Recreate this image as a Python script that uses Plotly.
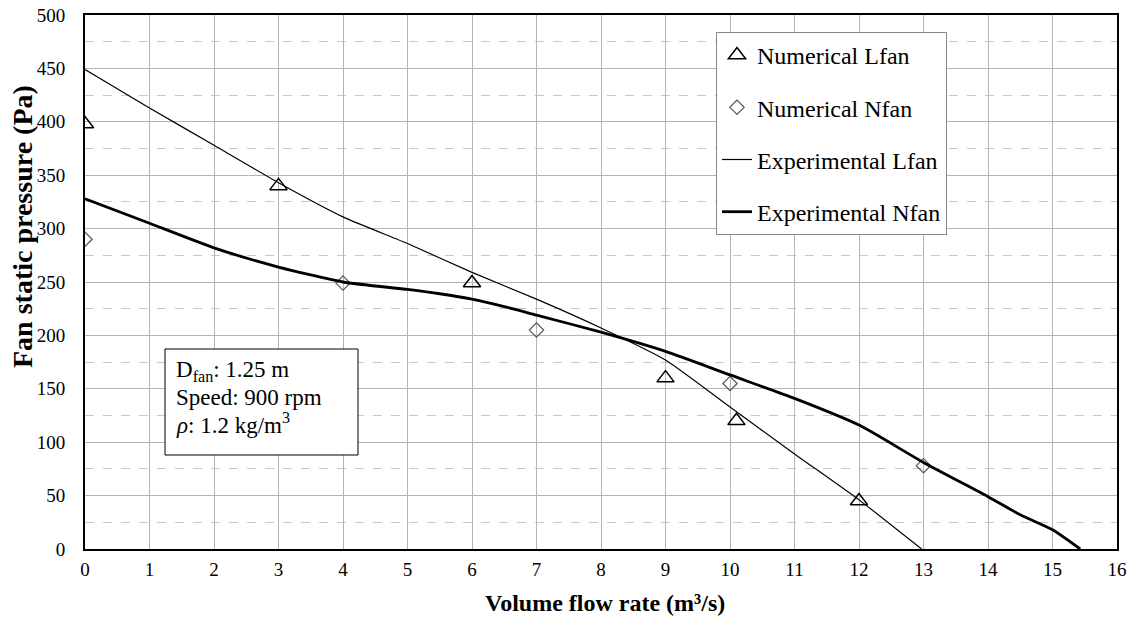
import plotly.graph_objects as go

# Numerical data
num_l_x = [0, 3, 6, 9, 10.1, 12]
num_l_y = [398, 340, 249, 160, 120, 45]
num_n_x = [0, 4, 7, 10, 13]
num_n_y = [290, 249, 205, 155, 78]

# Experimental curves
exp_l_x = [0, 1, 2, 3, 4, 5, 6, 7, 8, 9, 10, 11, 12, 12.97]
exp_l_y = [449, 413, 378, 343, 311, 286, 259, 234, 207, 177, 133, 89, 46, 0]
exp_n_x = [0, 1, 2, 3, 4, 5, 5.5, 6, 6.5, 7, 8, 9, 10, 11, 12, 13, 14, 14.5, 15, 15.43]
exp_n_y = [328, 305, 282, 264, 250, 243, 239, 234, 227, 219, 203, 185, 163, 141, 116, 81, 49, 32, 18, 0]

FONT = "Liberation Serif, Times New Roman, serif"

W, H = 1131, 619
L, R, T, B = 85, 1117, 15, 549


def px(x):
    return (x - L) / (R - L)


def py(y):
    return (B - y) / (B - T)


fig = go.Figure()
fig.add_trace(go.Scatter(x=num_l_x, y=num_l_y, mode="markers", name="Numerical Lfan",
                         legendgroup="a",
                         marker=dict(symbol="triangle-up-open", size=15, color="black",
                                     line=dict(width=1.5, color="black"))))
fig.add_trace(go.Scatter(x=num_n_x, y=num_n_y, mode="markers", name="Numerical Nfan",
                         legendgroup="b",
                         marker=dict(symbol="diamond-open", size=11, color="#555555",
                                     line=dict(width=1.2, color="#555555"))))
fig.add_trace(go.Scatter(x=exp_l_x, y=exp_l_y, mode="lines", name="Experimental Lfan",
                         legendgroup="c",
                         line=dict(color="black", width=1.2, shape="spline", smoothing=0.5)))
fig.add_trace(go.Scatter(x=exp_n_x, y=exp_n_y, mode="lines", name="Experimental Nfan",
                         legendgroup="d",
                         line=dict(color="black", width=2.8, shape="spline", smoothing=0.6)))

# info box
fig.add_shape(type="rect", xref="paper", yref="paper",
              x0=px(165), x1=px(358), y0=py(455), y1=py(349),
              line=dict(color="black", width=1), fillcolor="white", layer="above")
info_lines = ["D<sub>fan</sub>: 1.25 m", "Speed: 900 rpm", "<i>ρ</i>: 1.2 kg/m<sup>3</sup>"]
info_y = [371, 397, 423]
for t, yy in zip(info_lines, info_y):
    fig.add_annotation(xref="paper", yref="paper", x=px(174), y=py(yy),
                       xanchor="left", yanchor="middle", align="left", text=t,
                       showarrow=False, font=dict(family=FONT, size=23, color="black"))

# axis titles
fig.add_annotation(xref="paper", yref="paper", x=px(605), y=py(603), xanchor="center",
                   yanchor="middle", text="<b>Volume flow rate (m³/s)</b>", showarrow=False,
                   font=dict(family=FONT, size=24, color="black"))
fig.add_annotation(xref="paper", yref="paper", x=px(23), y=py(227), xanchor="center",
                   yanchor="middle", text="<b>Fan static pressure (Pa)</b>", showarrow=False,
                   textangle=-90, font=dict(family=FONT, size=28, color="black"))

fig.update_layout(
    width=W, height=H,
    margin=dict(l=L, r=W - R, t=T, b=H - B, autoexpand=False),
    paper_bgcolor="white", plot_bgcolor="white",
    font=dict(family=FONT, size=19, color="black"),
    legend=dict(x=px(716), y=py(32), xanchor="left", yanchor="top",
                bgcolor="white", bordercolor="#888888", borderwidth=1,
                font=dict(family=FONT, size=24, color="black"),
                tracegroupgap=18, itemwidth=30),
    xaxis=dict(range=[0, 16], dtick=1, tick0=0, showgrid=True, gridcolor="#b4b4b4", gridwidth=1,
               showline=True, linecolor="black", linewidth=2, mirror=True, zeroline=False,
               ticks="", ticklabelstandoff=2, automargin=False),
    yaxis=dict(range=[0, 500], dtick=50, tick0=0, showgrid=True, gridcolor="#b4b4b4", gridwidth=1,
               showline=True, linecolor="black", linewidth=2, mirror=True, zeroline=False,
               ticks="", ticklabelstandoff=14, automargin=False,
               minor=dict(dtick=25, tick0=0, showgrid=True, gridcolor="#c8c8c8", griddash="dash",
                          gridwidth=1)),
)

fig.write_html("out.html", config={"displayModeBar": False},
               post_script="document.body.style.margin='0';")
